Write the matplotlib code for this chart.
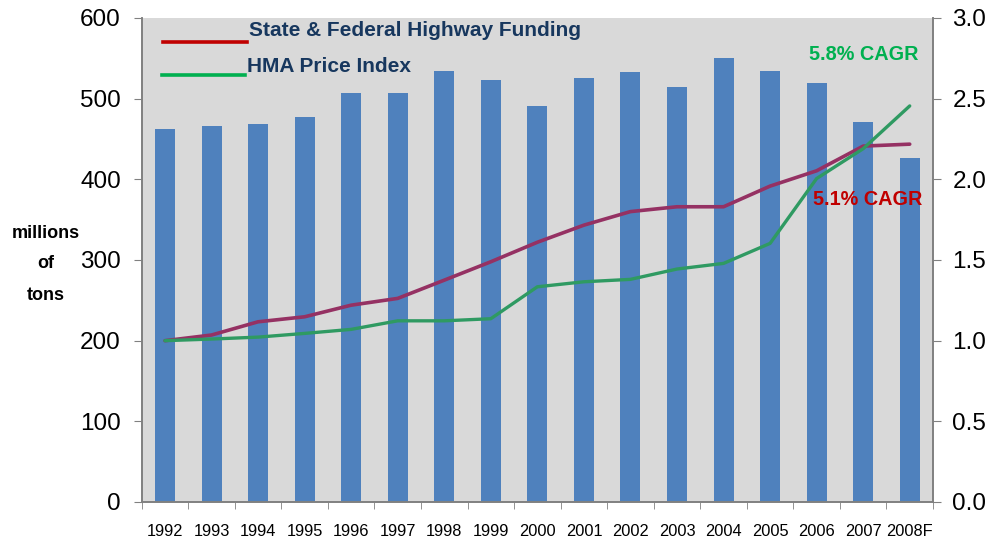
import matplotlib
matplotlib.use("Agg")
import matplotlib.pyplot as plt
from matplotlib.lines import Line2D
import numpy as np

years = ["1992", "1993", "1994", "1995", "1996", "1997", "1998", "1999", "2000",
         "2001", "2002", "2003", "2004", "2005", "2006", "2007", "2008F"]
tons = [463, 466, 468, 477, 507, 507, 534, 523, 491, 525, 533, 515, 550, 534, 520, 471, 427]
funding_index = [1.00, 1.035, 1.117, 1.148, 1.22, 1.262, 1.375, 1.489, 1.61, 1.716, 1.80,
                 1.83, 1.83, 1.958, 2.053, 2.206, 2.218]
hma_index = [1.00, 1.01, 1.022, 1.045, 1.07, 1.123, 1.123, 1.136, 1.334, 1.365, 1.38,
             1.444, 1.479, 1.603, 2.005, 2.19, 2.455]
left_ticks = [0, 100, 200, 300, 400, 500, 600]
right_ticks = [0.0, 0.5, 1.0, 1.5, 2.0, 2.5, 3.0]

W, H = 987, 543
fig = plt.figure(figsize=(W / 100, H / 100), dpi=100)
fig.patch.set_facecolor("white")

L, R, T, B = 141.7, 933, 18, 502
ax = fig.add_axes([L / W, 1 - B / H, (R - L) / W, (B - T) / H])
ax.set_facecolor("#D9D9D9")
ax2 = ax.twinx()

font = "Liberation Sans"
x = np.arange(len(years))
ax.bar(x, tons, width=0.43, color="#4F81BD", zorder=2)
ax.set_xlim(-0.5, len(years) - 0.5)
ax.set_ylim(0, 600)
ax.set_yticks(left_ticks)
ax.set_yticklabels([str(v) for v in left_ticks], fontsize=17.5, family=font)
ax.set_xticks(x)
ax.set_xticklabels(years, fontsize=11.8, family=font)
ax.tick_params(axis="x", length=0, pad=16)
ax.set_xticks(np.arange(-0.5, len(years)), minor=True)
ax.tick_params(axis="x", which="minor", length=5, color="#808080", direction="out")
ax.tick_params(axis="y", length=6, color="#808080", direction="out", pad=9)

ax2.plot(x, funding_index, color="#953163", lw=2.6, zorder=3, solid_capstyle="round")
ax2.plot(x, hma_index, color="#2F9A62", lw=2.4, zorder=3, solid_capstyle="round")
ax2.set_ylim(0, 3.0)
ax2.set_yticks(right_ticks)
ax2.set_yticklabels([f"{v:.1f}" for v in right_ticks], fontsize=17.5, family=font)
ax2.tick_params(axis="y", length=6, color="#808080", direction="out", pad=8)

for a in (ax, ax2):
    a.spines["top"].set_visible(False)
    for s in ("left", "right", "bottom"):
        a.spines[s].set_color("#808080")
        a.spines[s].set_linewidth(1.2)

def fx(px):
    return px / W

def fy(py):
    return 1 - py / H

# legend
fig.add_artist(Line2D([fx(163), fx(247)], [fy(42), fy(42)], color="#C00000", lw=2.6))
fig.add_artist(Line2D([fx(162), fx(245)], [fy(75), fy(75)], color="#00B050", lw=2.6))
fig.text(fx(249), fy(31), "State & Federal Highway Funding", fontsize=15,
         fontweight="bold", color="#17375E", family=font, va="center", ha="left")
fig.text(fx(247), fy(66), "HMA Price Index", fontsize=15,
         fontweight="bold", color="#17375E", family=font, va="center", ha="left")

# CAGR labels
fig.text(fx(864), fy(55), "5.8% CAGR", fontsize=14.3, fontweight="bold",
         color="#00B050", family=font, va="center", ha="center")
fig.text(fx(868), fy(199), "5.1% CAGR", fontsize=14.3, fontweight="bold",
         color="#C00000", family=font, va="center", ha="center")

# y-axis title
for txt, yy in (("millions", 233), ("of", 264), ("tons", 296)):
    fig.text(fx(46), fy(yy), txt, fontsize=13, fontweight="bold", color="black",
             family=font, va="center", ha="center")

fig.savefig("out.png", dpi=100, facecolor="white")
